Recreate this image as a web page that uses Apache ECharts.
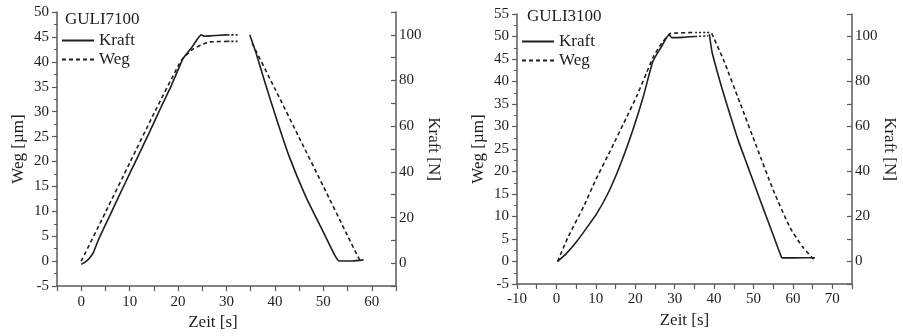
<!DOCTYPE html>
<html>
<head>
<meta charset="utf-8">
<script src="https://cdn.jsdelivr.net/npm/echarts@6/dist/echarts.min.js"></script>
<style>
  html, body { margin: 0; padding: 0; background: #fff; }
  #chart { width: 903px; height: 336px; }
</style>
</head>
<body>
<div id="chart"></div>
<script>
// GULI7100 (left panel)
const g7KraftT = [0, 0.8, 1.6, 2.5, 3.6, 6, 9, 11.4, 14, 16.5, 18.6, 20.3, 21, 23, 24.8, 25.5, 27, 30.2, 33.5, 34.8, 36.1, 38.1, 40.2, 42.9, 46.3, 49.8, 52.5, 53.3, 56, 58.3]
const g7KraftV = [-0.5, 0.5, 2, 4.7, 10.5, 21.3, 34.8, 45.4, 57, 68.4, 77.8, 86.2, 89.5, 95, 100, 99.4, 99.6, 100, null, 100, 92, 78, 64, 47, 29.5, 14.5, 3, 1, 1, 1.5]
const g7WegT = [0, 5, 10, 15, 20.3, 21, 23, 25.5, 26.5, 30.2, 33.5, 35.3, 40, 45, 50, 55, 57.6]
const g7WegV = [0, 9.8, 19.7, 29.6, 39.7, 40.7, 42.5, 43.7, 44, 44.1, null, 43.7, 34.6, 24.8, 15, 5.1, 0]
const g7KraftDotT = [30.2, 32.6]
const g7KraftDotV = [100, 100]
const g7WegDotT = [30.2, 32.6]
const g7WegDotV = [44.1, 44.1]

// GULI3100 (right panel)
const g3KraftT = [0.3, 2.5, 5.2, 7.5, 10.3, 13, 15.3, 17.5, 19.5, 22, 24.5, 26.5, 28.6, 29.3, 32, 35.2, 37, 38.8, 39.5, 40.7, 42, 44.1, 46, 48.3, 50.5, 52.5, 54.7, 56.8, 57.3, 60, 65.6]
const g3KraftV = [0, 3.5, 9, 14.5, 21.5, 30, 39, 49, 59, 73, 89, 95, 100.7, 99.5, 99.6, 100, null, 101, 93, 85, 77, 65, 54.5, 43.5, 33, 23.5, 13.2, 3.3, 1.6, 1.6, 1.7]
const g3WegT = [0.3, 3, 6.9, 10, 13.6, 17.9, 20.5, 22.9, 24.6, 26.7, 28.4, 29, 35.2, 37, 39.4, 42.4, 46.6, 50.8, 55, 59.3, 62.5, 65.6]
const g3WegV = [0, 5.5, 12.2, 18.2, 24.5, 32.2, 37, 42, 45.5, 48.5, 50.3, 50.7, 50.9, null, 50.7, 44.8, 35.2, 25.5, 15.9, 7.5, 3.2, 0.2]
const g3KraftDotT = [35.2, 38.5]
const g3KraftDotV = [100, 100.3]
const g3WegDotT = [35.2, 38.8]
const g3WegDotV = [50.9, 50.9]

const titles = ['GULI7100', 'GULI3100']
const seriesNames = ['Kraft', 'Weg']

const FONT = 'Liberation Serif'
const INK = '#1e1e1e'
const AXIS = '#5a5a5a'

function pairs(t, v) {
  return t.map((x, i) => [x, v[i] === null ? '-' : v[i]])
}

const chart = echarts.init(document.getElementById('chart'))

function xAxisOf(gridIndex, min, max, nameShift) {
  return {
    type: 'value', gridIndex, min, max, interval: 5,
    name: 'Zeit [s]', nameLocation: 'middle', nameGap: 25,
    nameTextStyle: { fontFamily: FONT, fontSize: 17, color: INK, padding: [0, nameShift, 0, 0] },
    axisLine: { onZero: false, lineStyle: { color: AXIS, width: 1.5 } },
    axisTick: { length: 5, lineStyle: { color: AXIS, width: 1.2 } },
    axisLabel: {
      margin: 8, fontFamily: FONT, fontSize: 15, color: INK,
      formatter: v => (v % 10 === 0 ? String(v) : '')
    },
    splitLine: { show: false }
  }
}

function wegAxisOf(gridIndex, min, max, nameGap) {
  return {
    type: 'value', gridIndex, position: 'left', min, max, interval: 5,
    name: 'Weg [µm]', nameLocation: 'middle', nameGap,
    nameTextStyle: { fontFamily: FONT, fontSize: 17, color: INK },
    axisLine: { show: true, onZero: false, lineStyle: { color: AXIS, width: 1.5 } },
    axisTick: { show: true, length: 5, lineStyle: { color: AXIS, width: 1.2 } },
    minorTick: { show: true, splitNumber: 2, length: 3, lineStyle: { color: AXIS, width: 1 } },
    axisLabel: { margin: 8, fontFamily: FONT, fontSize: 15, color: INK },
    splitLine: { show: false }
  }
}

function kraftAxisOf(gridIndex, nameGap) {
  return {
    type: 'value', gridIndex, position: 'right', min: -10, max: 110, interval: 10,
    name: 'Kraft [N]', nameLocation: 'middle', nameGap, nameRotate: -90,
    nameTextStyle: { fontFamily: FONT, fontSize: 17, color: INK },
    axisLine: { show: true, onZero: false, lineStyle: { color: AXIS, width: 1.5 } },
    axisTick: { show: true, inside: true, length: 5, lineStyle: { color: AXIS, width: 1.2 } },
    axisLabel: {
      margin: 3, fontFamily: FONT, fontSize: 15, color: INK,
      formatter: v => (v >= 0 && v <= 100 && v % 20 === 0 ? String(v) : '')
    },
    splitLine: { show: false }
  }
}

function line(name, t, v, xIdx, yIdx, dash) {
  return {
    name, type: 'line', xAxisIndex: xIdx, yAxisIndex: yIdx,
    data: pairs(t, v), showSymbol: false, symbol: 'none', connectNulls: false,
    smooth: 0.2,
    itemStyle: { color: INK },
    lineStyle: { color: INK, width: 1.6, type: dash }
  }
}

function legendOf(left, top) {
  return {
    data: seriesNames, orient: 'vertical', left, top,
    itemWidth: 32, itemHeight: 12, itemGap: 2, selectedMode: false,
    itemStyle: { opacity: 0 },
    textStyle: { fontFamily: FONT, fontSize: 17, color: INK }
  }
}

chart.setOption({
  animation: false,
  backgroundColor: '#fff',
  title: [
    { text: titles[0], left: 60, top: 6, textStyle: { fontFamily: FONT, fontSize: 17, fontWeight: 'normal', color: INK } },
    { text: titles[1], left: 522, top: 3, textStyle: { fontFamily: FONT, fontSize: 17, fontWeight: 'normal', color: INK } }
  ],
  legend: [legendOf(56, 27), legendOf(516, 28)],
  grid: [
    { left: 57, top: 12, width: 339, height: 275 },
    { left: 517, top: 14, width: 335, height: 270 }
  ],
  xAxis: [xAxisOf(0, -5, 65, 27), xAxisOf(1, -10, 75, 0)],
  yAxis: [wegAxisOf(0, -5, 50, 30), kraftAxisOf(0, 26), wegAxisOf(1, -5, 55, 30), kraftAxisOf(1, 19)],
  series: [
    line('Kraft', g7KraftT, g7KraftV, 0, 1, 'solid'),
    line('Weg', g7WegT, g7WegV, 0, 0, [4, 3]),
    line('', g7KraftDotT, g7KraftDotV, 0, 1, [2, 2]),
    line('', g7WegDotT, g7WegDotV, 0, 0, [2, 2]),
    line('Kraft', g3KraftT, g3KraftV, 1, 3, 'solid'),
    line('Weg', g3WegT, g3WegV, 1, 2, [4, 3]),
    line('', g3KraftDotT, g3KraftDotV, 1, 3, [2, 2]),
    line('', g3WegDotT, g3WegDotV, 1, 2, [2, 2])
  ]
})
</script>
</body>
</html>
